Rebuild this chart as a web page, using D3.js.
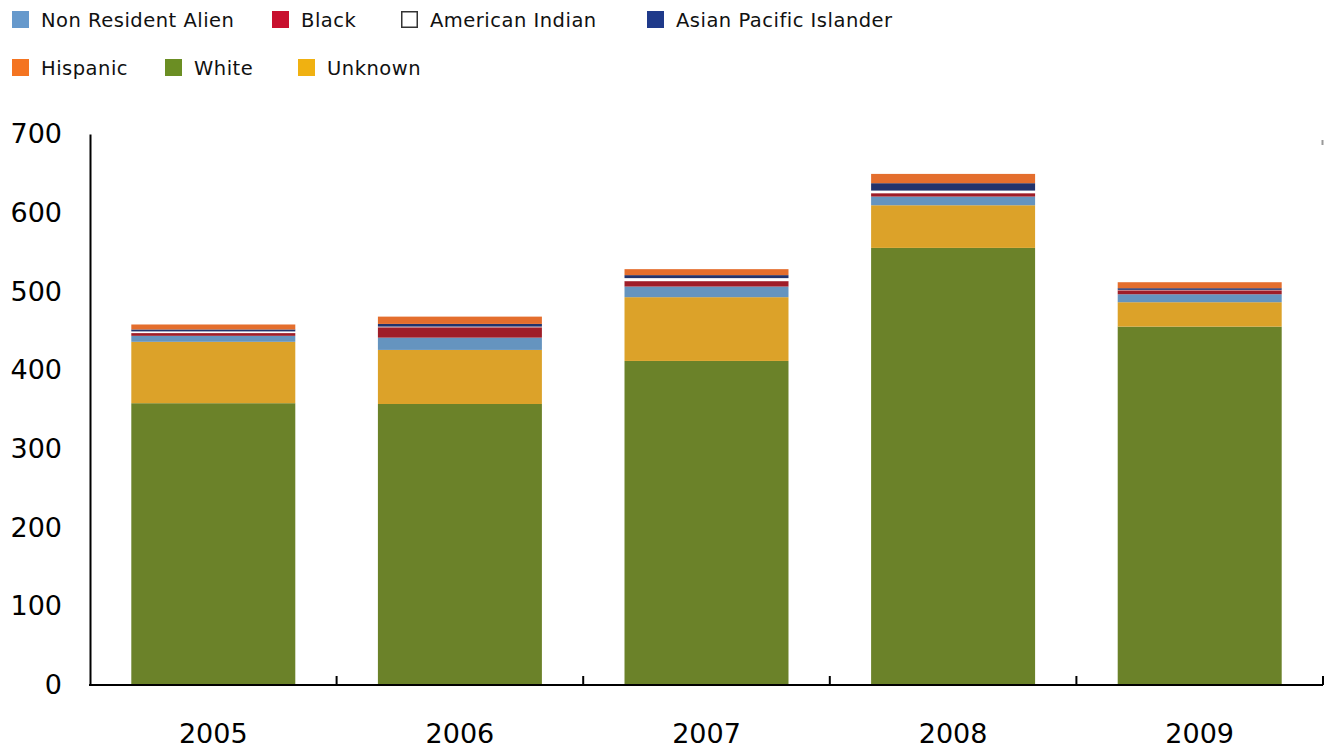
<!DOCTYPE html>
<html><head><meta charset="utf-8">
<script src="https://cdn.jsdelivr.net/npm/d3@7"></script>
<style>body{margin:0;background:#fff}svg{display:block;font-family:"DejaVu Sans",Arial,sans-serif}</style>
</head><body><svg id="c" width="1331" height="750"></svg>
<script>
const years = ["2005","2006","2007","2008","2009"];
const seriesNames = ["White","Unknown","Non Resident Alien","Black","American Indian","Asian Pacific Islander","Hispanic"];
const white    = [358, 357, 411.7, 555.3, 455.3];
const unknown  = [78, 68.7, 81, 54.2, 31];
const nra      = [7.6, 15.6, 13.5, 11, 10.1];
const black    = [3.5, 13.2, 6.9, 4.3, 5.1];
const amInd    = [2.1, 0.8, 3.8, 3.3, 0.5];
const asian    = [2.5, 3.4, 3.8, 9.4, 2.1];
const hispanic = [6.3, 9.3, 7.6, 11.8, 7.6];
const yTicks = [0,100,200,300,400,500,600,700];
const barColors = {"White":"#6b8229","Unknown":"#dca229","Non Resident Alien":"#6594bf","Black":"#9f1d28","American Indian":"#ffffff","Asian Pacific Islander":"#22336c","Hispanic":"#e46e2d"};
const legendColors = {"Non Resident Alien":"#6699cc","Black":"#c8102e","American Indian":"#ffffff","Asian Pacific Islander":"#1f3a8a","Hispanic":"#f47421","White":"#6b8e23","Unknown":"#f0b111"};
const legendRows = [["Non Resident Alien","Black","American Indian","Asian Pacific Islander"],["Hispanic","White","Unknown"]];
const legendX = [[12,272,401,647],[12,165,298]];

const valuesBy = {"White":white,"Unknown":unknown,"Non Resident Alien":nra,"Black":black,"American Indian":amInd,"Asian Pacific Islander":asian,"Hispanic":hispanic};
const table = years.map((y,i)=>{const o={year:y}; seriesNames.forEach(s=>o[s]=valuesBy[s][i]); return o;});
const stack = d3.stack().keys(seriesNames)(table);

const svg = d3.select("#c");
const x = d3.scaleBand().domain(years).range([90,1323]).paddingInner(0.335).paddingOuter(0.1675);
const y = d3.scaleLinear().domain([0,700]).range([685,134]);

// bars
svg.append("g").selectAll("g").data(stack).join("g")
  .attr("fill", d=>barColors[d.key])
  .selectAll("rect").data(d=>d).join("rect")
  .attr("x", d=>x(d.data.year)).attr("width", x.bandwidth())
  .attr("y", d=>y(d[1])).attr("height", d=>y(d[0])-y(d[1]));

// y axis
const ya = svg.append("g").attr("transform","translate(90,0)")
  .call(d3.axisLeft(y).tickValues(yTicks).tickSize(0).tickPadding(28));
ya.select(".domain").attr("stroke","#000").attr("stroke-width",2);
ya.selectAll("text").attr("font-size",27).attr("fill","#000").attr("font-family","DejaVu Sans, Arial, sans-serif");

// x axis
const step = x.step();
const xa = svg.append("g").attr("transform","translate(0,685)");
xa.append("line").attr("x1",89).attr("x2",1323).attr("y1",0).attr("y2",0).attr("stroke","#000").attr("stroke-width",2);
xa.selectAll("line.t").data(years.slice(1).concat(["end"])).join("line").attr("class","t")
  .attr("x1",(d,i)=>90+step*(i+1)).attr("x2",(d,i)=>90+step*(i+1))
  .attr("y1",0).attr("y2",-9).attr("stroke","#000").attr("stroke-width",2);
xa.selectAll("text").data(years).join("text")
  .attr("x", d=>x(d)+x.bandwidth()/2).attr("y",58).attr("text-anchor","middle")
  .attr("font-size",27).attr("fill","#000").text(d=>d);

// small mark top right
svg.append("line").attr("x1",1322.5).attr("x2",1322.5).attr("y1",140).attr("y2",145).attr("stroke","#999").attr("stroke-width",2);

// legend
legendRows.forEach((row,r)=>{
  row.forEach((name,j)=>{
    const g = svg.append("g").attr("transform",`translate(${legendX[r][j]},${r===0?11:59})`);
    g.append("rect").attr("x",name==="American Indian"?0.75:0).attr("y",name==="American Indian"?0.75:0)
      .attr("width",name==="American Indian"?15.5:17).attr("height",name==="American Indian"?15.5:17)
      .attr("fill",legendColors[name]).attr("stroke",name==="American Indian"?"#333":"none").attr("stroke-width",1.5);
    g.append("text").attr("x",29).attr("y",15.5).attr("font-size",19.5).attr("letter-spacing",0.5).attr("fill","#111").text(name);
  });
});
</script></body></html>
